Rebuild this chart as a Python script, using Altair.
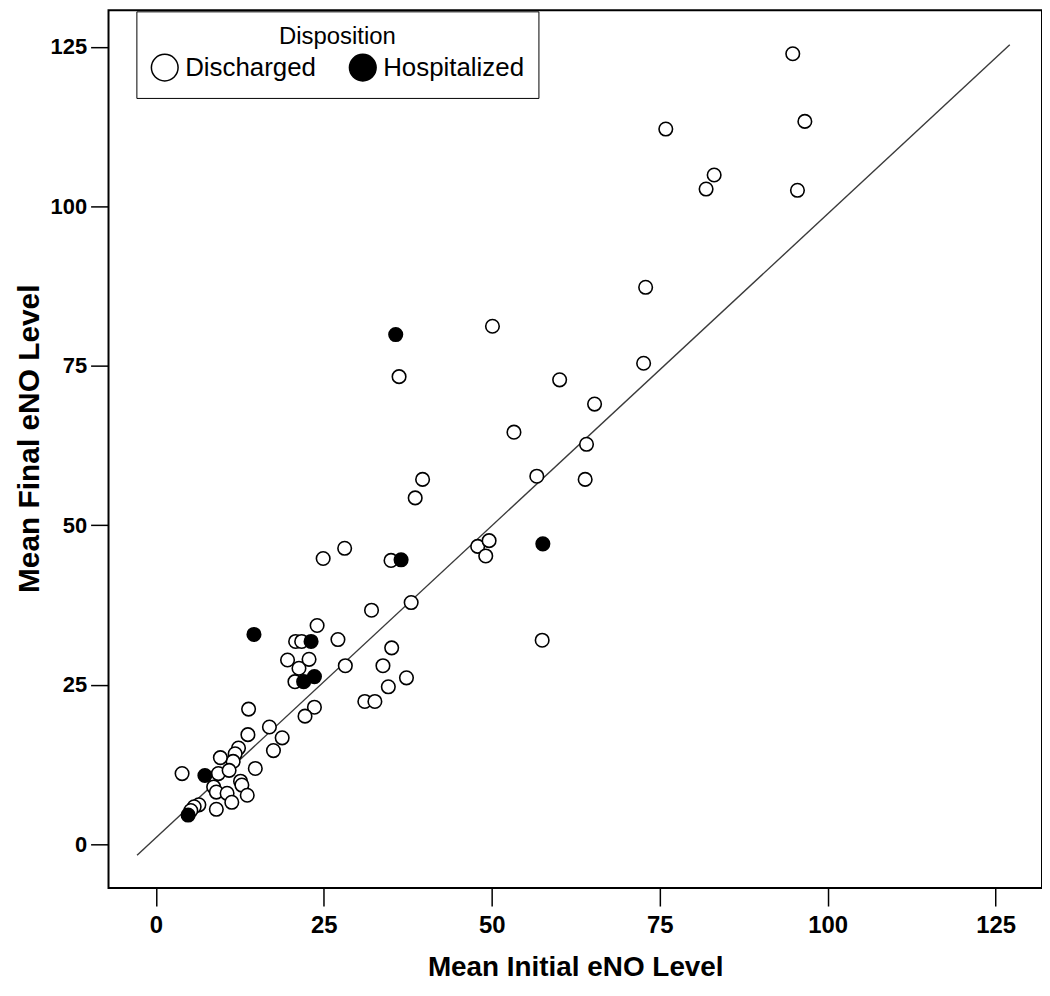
import altair as alt
import pandas as pd

# ---- data ----
discharged_x = [94.8, 96.6, 75.9, 83.1, 81.9, 95.5, 72.9, 72.6, 50.1, 36.2, 60.1, 65.3, 53.3, 64.1,
                56.7, 63.9, 39.7, 38.6, 47.9, 49.6, 49.1, 38.0, 57.5, 35.0, 24.9, 28.1, 32.1, 35.1,
                33.8, 37.3, 34.6, 31.1, 32.6, 23.6, 22.2, 24.0, 27.1, 28.2, 20.8, 21.7, 20.7, 21.3,
                19.6, 22.8, 13.8, 16.9, 13.7, 18.8, 17.5, 12.3, 11.8, 11.5, 9.6, 14.8, 3.9, 9.3,
                10.9, 12.6, 12.8, 8.6, 9.0, 10.6, 13.6, 11.3, 9.0, 6.4, 5.7, 5.2]
discharged_y = [123.9, 113.3, 112.1, 104.9, 102.7, 102.5, 87.3, 75.4, 81.2, 73.3, 72.8, 69.0, 64.6, 62.7,
                57.7, 57.2, 57.2, 54.3, 46.7, 47.6, 45.2, 37.9, 32.0, 44.5, 44.8, 46.4, 36.7, 30.8,
                28.0, 26.1, 24.7, 22.4, 22.4, 21.5, 20.1, 34.3, 32.1, 28.0, 31.8, 31.8, 25.5, 27.6,
                28.9, 29.0, 21.2, 18.4, 17.2, 16.7, 14.7, 15.1, 14.2, 13.0, 13.6, 11.9, 11.1, 11.1,
                11.6, 9.9, 9.3, 9.0, 8.2, 8.0, 7.7, 6.6, 5.5, 6.2, 5.9, 5.3]
hospitalized_x = [35.7, 36.5, 57.6, 14.6, 23.1, 22.0, 23.6, 7.3, 4.8]
hospitalized_y = [79.9, 44.6, 47.1, 32.9, 31.8, 25.5, 26.3, 10.8, 4.6]

fit_x = [-2.8, 127.1]
fit_y = [-1.7, 125.3]

categories = ["Discharged", "Hospitalized"]
tick_values = [0, 25, 50, 75, 100, 125]

pts = pd.DataFrame({
    "initial": discharged_x + hospitalized_x,
    "final": discharged_y + hospitalized_y,
    "Disposition": [categories[0]] * len(discharged_x) + [categories[1]] * len(hospitalized_x),
})
line_df = pd.DataFrame({"initial": fit_x, "final": fit_y})

FONT = "Liberation Sans"

x_scale = alt.Scale(domain=[-7.05, 131.9], nice=False, zero=False)
y_scale = alt.Scale(domain=[-6.85, 130.7], nice=False, zero=False)

x_axis = alt.Axis(values=tick_values, title="Mean Initial eNO Level", labelFont=FONT,
                  labelFontSize=24, labelFontWeight="bold", labelPadding=8,
                  titleFont=FONT, titleFontSize=28, titleFontWeight="bold",
                  titleY=88, titleBaseline="alphabetic")
y_axis = alt.Axis(values=tick_values, title="Mean Final eNO Level", labelFont=FONT,
                  labelFontSize=22, labelFontWeight="bold", labelPadding=4,
                  titleFont=FONT, titleFontSize=30, titleFontWeight="bold",
                  titleX=-79, titleY=430, titleBaseline="middle", titleAlign="center")

line = alt.Chart(line_df).mark_line(color="#3a3a3a", strokeWidth=1.4, clip=True).encode(
    x=alt.X("initial:Q", scale=x_scale, axis=x_axis),
    y=alt.Y("final:Q", scale=y_scale, axis=y_axis),
)

points = alt.Chart(pts).mark_point(shape="circle", filled=True, stroke="black",
                                   strokeWidth=1.6, size=185, opacity=1, clip=True).encode(
    x=alt.X("initial:Q", scale=x_scale),
    y=alt.Y("final:Q", scale=y_scale),
    fill=alt.Fill("Disposition:N",
                  scale=alt.Scale(domain=categories, range=["white", "black"]),
                  legend=alt.Legend(orient="none", legendX=28, legendY=1, direction="horizontal",
                                    title="Disposition", titleAnchor="middle", titleFont=FONT,
                                    titleFontSize=24, titleFontWeight="normal", titleColor="black",
                                    titlePadding=4, labelFont=FONT, labelFontSize=26,
                                    labelColor="black", symbolType="circle", symbolSize=720,
                                    symbolStrokeColor="black", symbolStrokeWidth=1.5,
                                    labelOffset=6, columnPadding=30, padding=14,
                                    strokeColor="black", fillColor="white", cornerRadius=0)),
)

chart = alt.layer(line, points).properties(
    width=938, height=882,
    autosize=alt.AutoSizeParams(type="none"),
    padding={"left": 101, "top": 0, "right": 0, "bottom": 96},
    background="white",
).configure_view(stroke="black", strokeWidth=2).configure_axis(
    grid=False, domain=False, tickColor="black", tickSize=18, tickWidth=1.5,
    labelColor="black", titleColor="black",
)

chart.save("out.html", embed_options={"renderer": "svg", "actions": False})
